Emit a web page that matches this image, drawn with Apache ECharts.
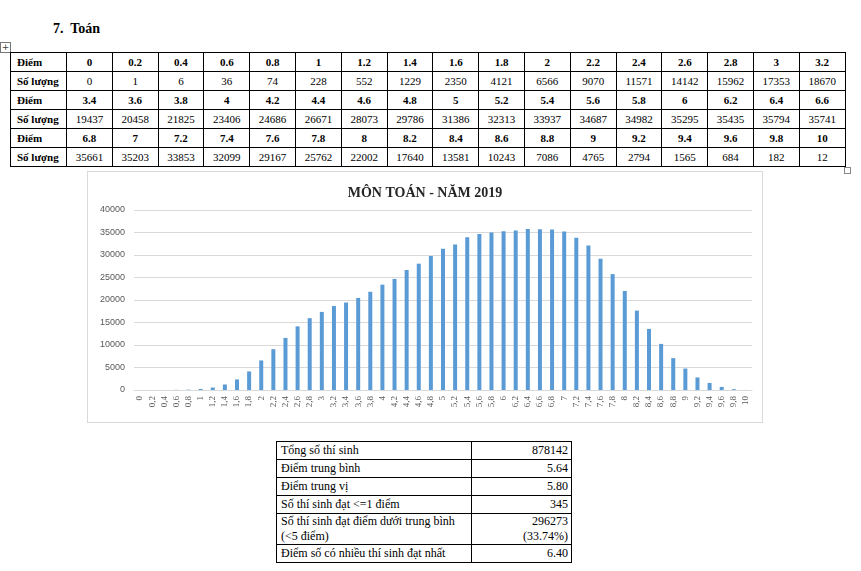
<!DOCTYPE html>
<html>
<head>
<meta charset="utf-8">
<script src="https://cdn.jsdelivr.net/npm/echarts@6/dist/echarts.min.js"></script>
<style>
  html, body { margin: 0; padding: 0; background: #fff; width: 861px; height: 571px; overflow: hidden; }
  body { position: relative; font-family: "Liberation Serif", "DejaVu Serif", serif; color: #000; }
  #heading { position: absolute; left: 53px; top: 21px; font-size: 14px; font-weight: bold; white-space: pre; }
  #move { position: absolute; left: 0; top: 42px; width: 9px; height: 9px; border: 1px solid #777; font-size: 9px; line-height: 9px; text-align: center; color: #444; font-family: "DejaVu Sans", sans-serif; }
  #handle { position: absolute; left: 844px; top: 167px; width: 5px; height: 5px; border: 1px solid #888; background: #fff; }
  table { border-collapse: collapse; position: absolute; table-layout: fixed; }
  #scoreTable { left: 10px; top: 52px; width: 835px; font-size: 11px; }
  #scoreTable td { border: 1px solid #000; height: 18px; padding: 0; text-align: center; vertical-align: middle; line-height: 12px; }
  #scoreTable td.lab { text-align: left; padding-left: 6px; font-weight: bold; }
  #scoreTable tr.pts td { font-weight: bold; }
  #scoreTable tr.cnt td.lab { font-weight: bold; }
  #statTable { left: 276px; top: 441px; width: 295px; font-size: 12px; }
  #statTable td { border: 1px solid #000; padding: 0 3px 0 4px; height: 17px; line-height: 15px; vertical-align: middle; }
  #statTable td.v { text-align: right; }
  #chartBox { position: absolute; left: 87px; top: 171px; width: 674px; height: 250px; border: 1px solid #d9d9d9; }
  #chart { width: 674px; height: 250px; }
</style>
</head>
<body>
<div id="heading">7.  Toán</div>
<div id="move">+</div>
<table id="scoreTable"><colgroup id="cg"></colgroup><tbody id="scoreBody"></tbody></table>
<div id="handle"></div>
<div id="chartBox"><div id="chart"></div></div>
<table id="statTable"><colgroup><col style="width:195px"><col style="width:100px"></colgroup><tbody id="statBody"></tbody></table>
<script>
// ---- data ----
const scores = ["0","0.2","0.4","0.6","0.8","1","1.2","1.4","1.6","1.8","2","2.2","2.4","2.6","2.8","3","3.2",
  "3.4","3.6","3.8","4","4.2","4.4","4.6","4.8","5","5.2","5.4","5.6","5.8","6","6.2","6.4","6.6",
  "6.8","7","7.2","7.4","7.6","7.8","8","8.2","8.4","8.6","8.8","9","9.2","9.4","9.6","9.8","10"];
const counts = [0,1,6,36,74,228,552,1229,2350,4121,6566,9070,11571,14142,15962,17353,18670,
  19437,20458,21825,23406,24686,26671,28073,29786,31386,32313,33937,34687,34982,35295,35435,35794,35741,
  35661,35203,33853,32099,29167,25762,22002,17640,13581,10243,7086,4765,2794,1565,684,182,12];
const yTicks = [0,5000,10000,15000,20000,25000,30000,35000,40000];
const chartTitle = "MÔN TOÁN - NĂM 2019";
const statLabels = ["Tổng số thí sinh","Điểm trung bình","Điểm trung vị","Số thí sinh đạt <=1 điểm",
  "Số thí sinh đạt điểm dưới trung bình<br>(<5 điểm)","Điểm số có nhiều thí sinh đạt nhất"];
const statValues = ["878142","5.64","5.80","345","296273<br>(33.74%)","6.40"];

// ---- score table ----
const cg = document.getElementById('cg');
let c0 = document.createElement('col'); c0.style.width = '56px'; cg.appendChild(c0);
for (let i = 0; i < 17; i++) { const c = document.createElement('col'); c.style.width = '45.8px'; cg.appendChild(c); }
const sb = document.getElementById('scoreBody');
for (let r = 0; r < 3; r++) {
  const s = scores.slice(r*17, r*17+17), n = counts.slice(r*17, r*17+17);
  let tr1 = document.createElement('tr'); tr1.className = 'pts';
  tr1.innerHTML = '<td class="lab">Điểm</td>' + s.map(v => '<td>' + v + '</td>').join('');
  let tr2 = document.createElement('tr'); tr2.className = 'cnt';
  tr2.innerHTML = '<td class="lab">Số lượng</td>' + n.map(v => '<td>' + v + '</td>').join('');
  sb.appendChild(tr1); sb.appendChild(tr2);
}
// ---- stats table ----
const stb = document.getElementById('statBody');
statLabels.forEach((l, i) => {
  const tr = document.createElement('tr');
  tr.innerHTML = '<td>' + l.replace('<br>', '\u0001').replace(/</g,'&lt;').replace('\u0001','<br>') + '</td><td class="v">' + statValues[i] + '</td>';
  stb.appendChild(tr);
});

// ---- chart ----
const chart = echarts.init(document.getElementById('chart'), null, {renderer: 'canvas'});
chart.setOption({
  animation: false,
  title: {
    text: chartTitle, left: 'center', top: 9,
    textStyle: { fontFamily: 'Liberation Serif', fontWeight: 'bold', fontSize: 14, color: '#262626' }
  },
  grid: { left: 46, right: 10, top: 38, bottom: 32, containLabel: false },
  xAxis: {
    type: 'category',
    data: scores.map(s => s.replace('.', ',')),
    axisTick: { show: false },
    axisLine: { lineStyle: { color: '#d9d9d9' } },
    axisLabel: { interval: 0, rotate: 90, fontSize: 9, color: '#595959', margin: 6, fontFamily: 'Liberation Serif' }
  },
  yAxis: {
    type: 'value', min: yTicks[0], max: yTicks[yTicks.length-1], interval: yTicks[1]-yTicks[0],
    axisLine: { show: false }, axisTick: { show: false },
    splitLine: { lineStyle: { color: '#d9d9d9' } },
    axisLabel: { fontSize: 9, color: '#595959', margin: 9, fontFamily: 'Liberation Sans', formatter: v => String(v) }
  },
  series: [{
    type: 'bar', data: counts, barWidth: 4,
    itemStyle: { color: '#5b9bd5' }
  }]
});
</script>
</body>
</html>
